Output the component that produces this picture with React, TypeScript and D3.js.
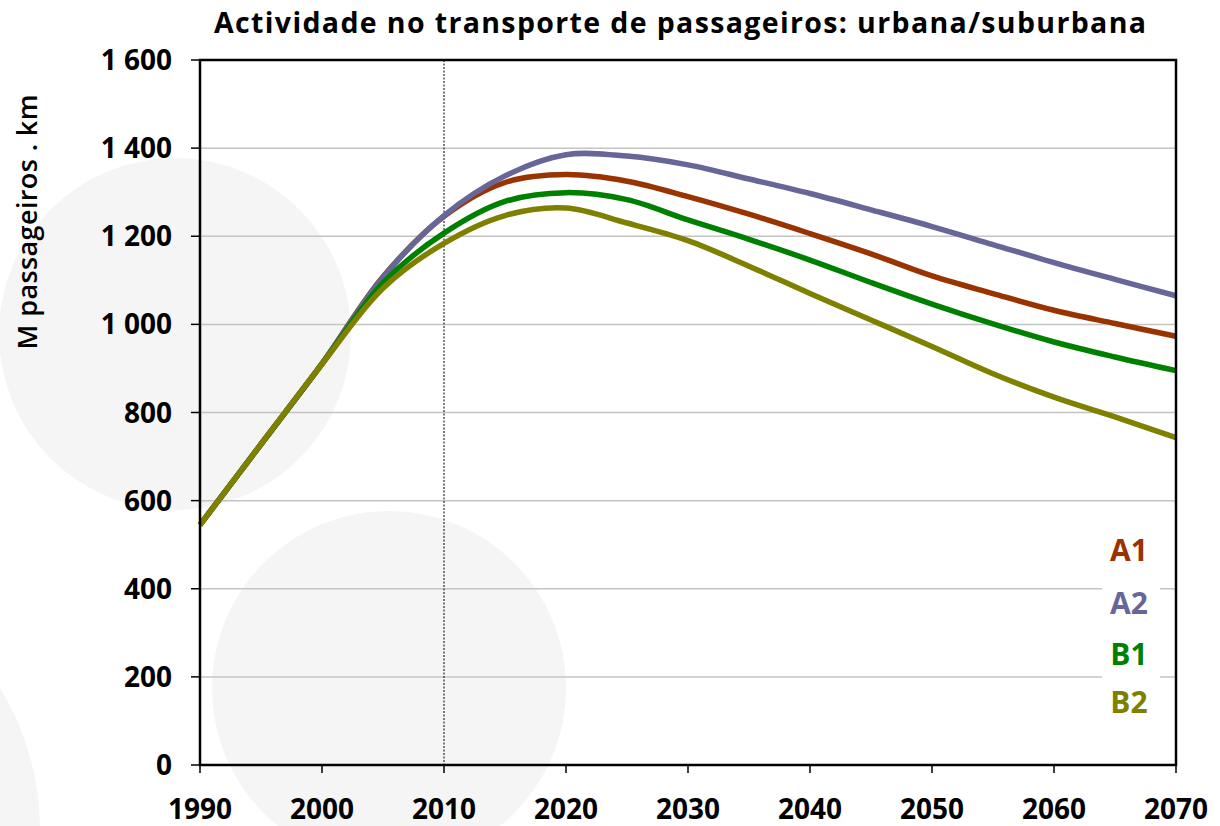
import React from "react";
import * as d3 from "d3";

const years = [1990, 1995, 2000, 2005, 2010, 2015, 2020, 2025, 2030, 2035, 2040, 2045, 2050, 2055, 2060, 2065, 2070];
const seriesA1 = [545, 728, 911, 1108, 1245, 1322, 1340, 1325, 1290, 1250, 1206, 1160, 1110, 1070, 1032, 1002, 973];
const seriesA2 = [545, 728, 911, 1107, 1247, 1337, 1385, 1382, 1362, 1330, 1297, 1260, 1222, 1181, 1140, 1102, 1065];
const seriesB1 = [545, 728, 910, 1094, 1207, 1279, 1299, 1283, 1237, 1193, 1146, 1095, 1046, 1001, 960, 926, 895];
const seriesB2 = [545, 728, 910, 1082, 1184, 1247, 1264, 1230, 1190, 1132, 1070, 1010, 950, 888, 835, 790, 743];

const seriesNames = ["A1", "A2", "B1", "B2"];
const seriesColors = ["#993300", "#666699", "#008000", "#808000"];
const seriesValues = [seriesA1, seriesA2, seriesB1, seriesB2];

const xTicks = [1990, 2000, 2010, 2020, 2030, 2040, 2050, 2060, 2070];
const yTicks = [0, 200, 400, 600, 800, 1000, 1200, 1400, 1600];
const markerYear = 2010;

const title = "Actividade no transporte de passageiros: urbana/suburbana";
const yLabel = "M passageiros . km";

const W = 1220;
const H = 826;
const L = 200, R = 1176, T = 60, B = 765;

export default function App() {
  const x = d3.scaleLinear().domain([1990, 2070]).range([L, R]);
  const y = d3.scaleLinear().domain([0, 1600]).range([B, T]);
  const line = d3
    .line<number>()
    .x((_, i) => x(years[i]))
    .y((v) => y(v))
    .curve(d3.curveCatmullRom.alpha(0.5));
  const fmt = (v: number) => d3.format(",")(v).replace(/,/g, " ");
  const font = "'Open Sans', 'Noto Sans', sans-serif";

  return (
    <svg
      width={W}
      height={H}
      style={{ position: "absolute", left: 0, top: 0, background: "#fff" }}
      fontFamily={font}
    >
      {/* background decorative circles */}
      <circle cx={175} cy={334} r={176} fill="#f5f5f5" />
      <circle cx={389} cy={688} r={177} fill="#f5f5f5" />
      <circle cx={-232} cy={830} r={272} fill="#f5f5f5" />

      {/* gridlines */}
      {yTicks.slice(1, -1).map((t) => (
        <line key={t} x1={L} x2={R} y1={y(t)} y2={y(t)} stroke="#c4c4c4" strokeWidth={1.5} />
      ))}

      {/* 2010 dotted marker */}
      <line x1={x(markerYear)} x2={x(markerYear)} y1={T} y2={B} stroke="#000" strokeWidth={1} strokeDasharray="2,1.5" />

      {/* series */}
      {seriesValues.map((vals, i) => (
        <path key={seriesNames[i]} d={line(vals) || ""} fill="none" stroke={seriesColors[i]} strokeWidth={5.5} strokeLinejoin="round" />
      ))}

      {/* plot frame */}
      <rect x={L} y={T} width={R - L} height={B - T} fill="none" stroke="#000" strokeWidth={2.5} />

      {/* y ticks */}
      {yTicks.map((t) => (
        <g key={t}>
          <line x1={L - 9} x2={L} y1={y(t)} y2={y(t)} stroke="#000" strokeWidth={1.5} />
          <text x={172} y={y(t)} dy="0.36em" textAnchor="end" fontSize={28} fontWeight={700} fill="#000">
            {fmt(t)}
          </text>
        </g>
      ))}

      {/* x ticks */}
      {xTicks.map((t) => (
        <g key={t}>
          <line x1={x(t)} x2={x(t)} y1={B} y2={B + 8} stroke="#000" strokeWidth={1.5} />
          <text x={x(t)} y={819} textAnchor="middle" fontSize={28} fontWeight={700} fill="#000">
            {t}
          </text>
        </g>
      ))}

      {/* title */}
      <text x={680} y={33} textAnchor="middle" fontSize={28.5} fontWeight={700} fill="#000" textLength={932} lengthAdjust="spacing">
        {title}
      </text>

      {/* y axis label */}
      <text
        transform={`translate(37, ${222}) rotate(-90)`}
        textAnchor="middle"
        fontSize={27}
        fontWeight={600}
        fill="#000"
        textLength={255}
        lengthAdjust="spacing"
      >
        {yLabel}
      </text>

      {/* legend */}
      <rect x={1102} y={528} width={58} height={194} fill="#fff" />
      {seriesNames.map((n, i) => (
        <text key={n} x={1129} y={[561, 614, 665, 713][i]} textAnchor="middle" fontSize={30} fontWeight={700} fill={seriesColors[i]}>
          {n}
        </text>
      ))}
    </svg>
  );
}
